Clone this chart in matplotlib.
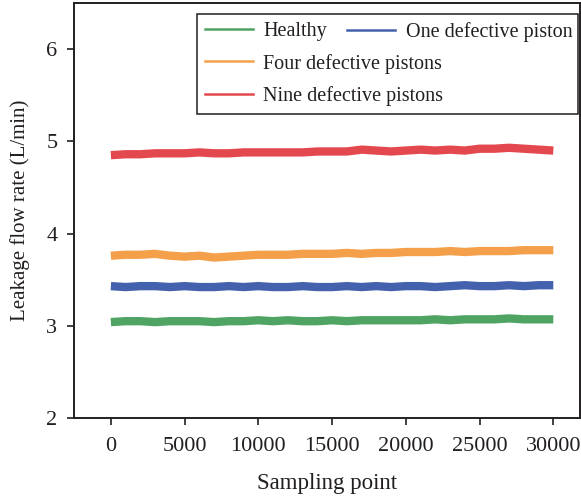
import numpy as np
import matplotlib
matplotlib.use("Agg")
import matplotlib.pyplot as plt
from matplotlib.lines import Line2D

# sampling points (every 1000 samples) and the leakage flow rate
sampling_points = list(range(0, 30001, 1000))

healthy = [3.04, 3.05, 3.05, 3.04, 3.05, 3.05, 3.05, 3.04, 3.05, 3.05, 3.06,
           3.05, 3.06, 3.05, 3.05, 3.06, 3.05, 3.06, 3.06, 3.06, 3.06, 3.06,
           3.07, 3.06, 3.07, 3.07, 3.07, 3.08, 3.07, 3.07, 3.07]
one_defective = [3.43, 3.42, 3.43, 3.43, 3.42, 3.43, 3.42, 3.42, 3.43, 3.42, 3.43,
                 3.42, 3.42, 3.43, 3.42, 3.42, 3.43, 3.42, 3.43, 3.42, 3.43, 3.43,
                 3.42, 3.43, 3.44, 3.43, 3.43, 3.44, 3.43, 3.44, 3.44]
four_defective = [3.76, 3.77, 3.77, 3.78, 3.76, 3.75, 3.76, 3.74, 3.75, 3.76, 3.77,
                  3.77, 3.77, 3.78, 3.78, 3.78, 3.79, 3.78, 3.79, 3.79, 3.80, 3.80,
                  3.80, 3.81, 3.80, 3.81, 3.81, 3.81, 3.82, 3.82, 3.82]
nine_defective = [4.85, 4.86, 4.86, 4.87, 4.87, 4.87, 4.88, 4.87, 4.87, 4.88, 4.88,
                  4.88, 4.88, 4.88, 4.89, 4.89, 4.89, 4.91, 4.90, 4.89, 4.90, 4.91,
                  4.90, 4.91, 4.90, 4.92, 4.92, 4.93, 4.92, 4.91, 4.90]

labels = ["Healthy", "One defective piston", "Four defective pistons", "Nine defective pistons"]
colors = ["#4fa463", "#4361ac", "#f4a04b", "#e4484f"]

x_ticks = [0, 5000, 10000, 15000, 20000, 25000, 30000]
y_ticks = [2, 3, 4, 5, 6]

ink = "#231f20"
plt.rcParams["font.family"] = ["Liberation Serif", "DejaVu Serif"]
plt.rcParams["text.color"] = ink
plt.rcParams["axes.labelcolor"] = ink
plt.rcParams["xtick.color"] = ink
plt.rcParams["ytick.color"] = ink

fig = plt.figure(figsize=(5.81, 4.98), dpi=100)
ax = fig.add_axes([0.1274, 0.1606, 0.8706, 0.8334])

series = [healthy, one_defective, four_defective, nine_defective]
for values, label, color in zip(series, labels, colors):
    # thick line stands in for the noisy band of the raw signal
    ax.plot(sampling_points, values, color=color, lw=6, solid_capstyle="butt", label=label)

ax.set_xlim(-2500, 31800)
ax.set_ylim(2, 6.5)
ax.set_xticks(x_ticks)
ax.set_yticks(y_ticks)
ax.tick_params(direction="out", length=5, width=1.2, labelsize=16)
ax.tick_params(axis="x", pad=9)
ax.tick_params(axis="y", pad=7)
for spine in ax.spines.values():
    spine.set_linewidth(1.4)
    spine.set_color(ink)

ax.set_xlabel("Sampling point", fontsize=16.5, labelpad=12)
ax.set_ylabel("Leakage flow rate (L/min)", fontsize=15, labelpad=12)

# legend: Healthy / Four / Nine in a framed box, One defective piston sits next to Healthy
handles = [Line2D([], [], color=c, lw=1.8) for c in colors]
leg1 = ax.legend([handles[0], handles[2], handles[3]], [labels[0], labels[2], labels[3]],
                 loc="upper left", bbox_to_anchor=(0.243, 0.742, 0.753, 0.2315),
                 mode="expand", borderaxespad=0, fancybox=False, edgecolor=ink,
                 framealpha=1, handlelength=2.4, handletextpad=0.5, labelspacing=0.62,
                 fontsize=14.5)
leg1.get_frame().set_linewidth(1.1)
ax.add_artist(leg1)
ax.legend([handles[1]], [labels[1]], loc="upper left", bbox_to_anchor=(0.540, 0.955),
          borderaxespad=0, borderpad=0, frameon=False, handlelength=2.4,
          handletextpad=0.5, fontsize=14.5)

plt.savefig("out.png", dpi=100)
